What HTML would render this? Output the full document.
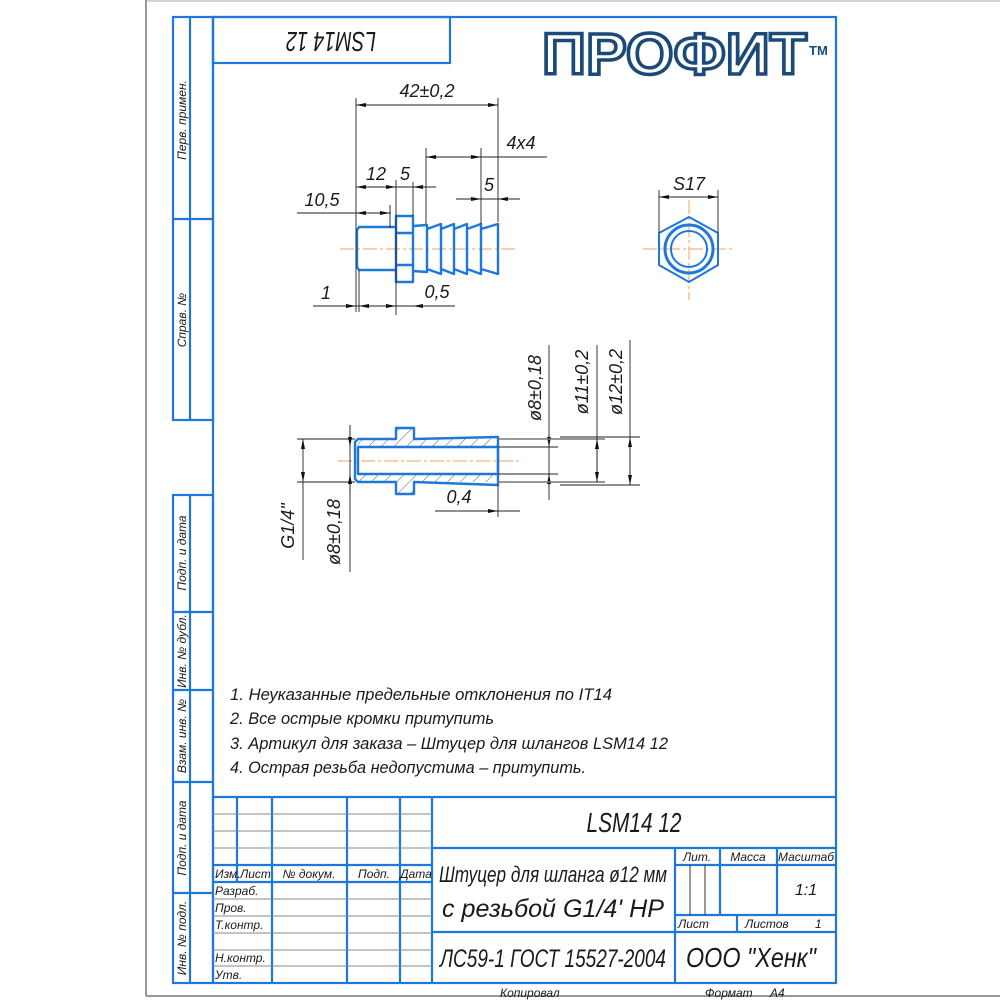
<!DOCTYPE html>
<html><head><meta charset="utf-8"><style>
html,body{margin:0;padding:0;background:#fff;width:1000px;height:1000px;overflow:hidden}
svg{display:block}
text{font-family:"Liberation Sans Narrow","Liberation Sans",sans-serif;font-style:italic;fill:#1a1a1a}
</style></head><body>
<svg width="1000" height="1000" viewBox="0 0 1000 1000" xmlns="http://www.w3.org/2000/svg">
<defs>
<pattern id="h" patternUnits="userSpaceOnUse" width="9" height="9" patternTransform="rotate(45)">
<line x1="0" y1="0" x2="0" y2="9" stroke="#333" stroke-width="0.8"/>
</pattern>
<marker id="a" viewBox="0 0 10 4" refX="10" refY="2" markerWidth="12" markerHeight="4" markerUnits="userSpaceOnUse" orient="auto-start-reverse"><path d="M0,0 L10,2 L0,4z" fill="#111"/></marker>
</defs>
<line x1="146" y1="0" x2="146" y2="996" stroke="#777" stroke-width="1.5"/>
<line x1="146" y1="996" x2="1000" y2="996" stroke="#777" stroke-width="1.5"/>
<line x1="146" y1="1" x2="1000" y2="1" stroke="#aaa" stroke-width="1"/>
<g stroke="#1e78dc" stroke-width="2.2" fill="none">
<rect x="213" y="17" width="623" height="966"/>
<rect x="173" y="17" width="40" height="403"/>
<line x1="190" y1="17" x2="190" y2="420"/>
<line x1="173" y1="219" x2="213" y2="219"/>
<rect x="173" y="495" width="40" height="488"/>
<line x1="190" y1="495" x2="190" y2="983"/>
<line x1="173" y1="612" x2="213" y2="612"/>
<line x1="173" y1="690" x2="213" y2="690"/>
<line x1="173" y1="782" x2="213" y2="782"/>
<line x1="173" y1="893" x2="213" y2="893"/>
<rect x="213" y="17" width="237" height="46"/>
<line x1="213" y1="797" x2="836" y2="797"/>
<line x1="237" y1="797" x2="237" y2="882"/>
<line x1="272" y1="797" x2="272" y2="983"/>
<line x1="347" y1="797" x2="347" y2="983"/>
<line x1="400" y1="797" x2="400" y2="983"/>
<line x1="432" y1="797" x2="432" y2="983"/>
<line x1="213" y1="865" x2="432" y2="865"/>
<line x1="213" y1="882" x2="432" y2="882"/>
<line x1="432" y1="848" x2="836" y2="848"/>
<line x1="432" y1="932" x2="836" y2="932"/>
<line x1="675" y1="848" x2="675" y2="983"/>
<line x1="720" y1="848" x2="720" y2="915"/>
<line x1="777" y1="848" x2="777" y2="915"/>
<line x1="675" y1="865" x2="836" y2="865"/>
<line x1="675" y1="915" x2="836" y2="915"/>
<line x1="737" y1="915" x2="737" y2="932"/>
</g>
<g stroke="#888" stroke-width="1">
<line x1="213" y1="814" x2="432" y2="814"/>
<line x1="213" y1="831" x2="432" y2="831"/>
<line x1="213" y1="848" x2="432" y2="848"/>
<line x1="213" y1="899" x2="432" y2="899"/>
<line x1="213" y1="916" x2="432" y2="916"/>
<line x1="213" y1="933" x2="432" y2="933"/>
<line x1="213" y1="950" x2="432" y2="950"/>
<line x1="213" y1="966" x2="432" y2="966"/>
<line x1="690" y1="865" x2="690" y2="915" stroke="#333"/>
<line x1="705" y1="865" x2="705" y2="915" stroke="#333"/>
</g>
<g font-size="12">
<text transform="translate(186,120) rotate(-90)" text-anchor="middle">Перв. примен.</text>
<text transform="translate(186,320) rotate(-90)" text-anchor="middle">Справ. №</text>
<text transform="translate(186,553) rotate(-90)" text-anchor="middle">Подп. и дата</text>
<text transform="translate(186,651) rotate(-90)" text-anchor="middle">Инв. № дубл.</text>
<text transform="translate(186,736) rotate(-90)" text-anchor="middle">Взам. инв. №</text>
<text transform="translate(186,838) rotate(-90)" text-anchor="middle">Подп. и дата</text>
<text transform="translate(186,938) rotate(-90)" text-anchor="middle">Инв. № подл.</text>
</g>
<text transform="translate(331,42) rotate(180)" text-anchor="middle" font-size="28" dy="10" textLength="90" lengthAdjust="spacingAndGlyphs">LSM14 12</text>
<!-- logo -->
<text x="542" y="74" font-size="58" textLength="265" lengthAdjust="spacingAndGlyphs" stroke="#1b4a78" stroke-width="3.5" style="fill:#fff;font-family:'Liberation Sans',sans-serif;font-weight:bold;font-style:normal">ПРОФИТ</text>
<text x="809" y="55" font-size="13" style="fill:#1b4a78;font-family:'Liberation Sans',sans-serif;font-weight:bold;font-style:normal">TM</text>
<g stroke="#f0a060" stroke-width="1" stroke-dasharray="14,3,3,3">
<line x1="340" y1="249" x2="515" y2="249"/>
<line x1="338" y1="461" x2="522" y2="461"/>
<line x1="643" y1="249" x2="735" y2="249"/>
<line x1="689" y1="200" x2="689" y2="300"/>
</g>
<g stroke="#1e78dc" stroke-width="2.4" fill="none" stroke-linejoin="round">
<path d="M396,227 H359 L357,230 V267 L359,270 H396"/>
<rect x="396" y="216" width="17" height="66"/>
<line x1="396" y1="233" x2="413" y2="233"/><line x1="396" y1="265" x2="413" y2="265"/>
<path d="M413,226 L427,225 V272 L413,271 M427,229 L441,224 V274 L427,269 M441,229 L454,224 V274 L441,269 M454,229 L467,224 V274 L454,269 M467,229 L481,224 V274 L467,269 M481,229 L498,224 V274 L481,269"/>
</g>
<g stroke="#1e78dc" fill="none">
<polygon points="689,217 718,233 718,265 689,282 659,265 659,233" stroke-width="2"/>
<circle cx="689" cy="249" r="24" stroke-width="3"/>
<circle cx="689" cy="249" r="18" stroke-width="2"/>
</g>
<path d="M356,439 H396 V428 H414 V439 H498 V447 H358 Z" fill="url(#h)"/>
<path d="M356,482 H396 V494 H414 V482 H498 V474 H358 Z" fill="url(#h)"/>
<g stroke="#1e78dc" stroke-width="2.4" fill="none" stroke-linejoin="round">
<path d="M358,439 H396 V428 H414 V439 L498,437 V485 L414,482 V494 H396 V482 H358 L355,479 V442 Z"/>
<rect x="358" y="447" width="140" height="27"/>
</g>
<g stroke="#222" stroke-width="0.9" fill="none">
<line x1="356" y1="98" x2="356" y2="312"/><line x1="498" y1="98" x2="498" y2="222"/>
<line x1="356" y1="105" x2="498" y2="105" marker-start="url(#a)" marker-end="url(#a)"/>
<line x1="426" y1="148" x2="426" y2="224"/><line x1="481" y1="148" x2="481" y2="224"/>
<line x1="426" y1="157" x2="547" y2="157"/>
<line x1="426" y1="157" x2="481" y2="157" marker-start="url(#a)" marker-end="url(#a)"/>
<line x1="396" y1="180" x2="396" y2="315"/><line x1="413" y1="182" x2="413" y2="216"/>
<line x1="356" y1="187" x2="396" y2="187" marker-start="url(#a)" marker-end="url(#a)"/>
<line x1="396" y1="187" x2="436" y2="187"/>
<line x1="418" y1="187" x2="413" y2="187" marker-end="url(#a)"/>
<line x1="456" y1="199" x2="520" y2="199"/>
<line x1="465" y1="199" x2="481" y2="199" marker-end="url(#a)"/>
<line x1="514" y1="199" x2="498" y2="199" marker-end="url(#a)"/>
<line x1="390" y1="205" x2="390" y2="228"/>
<line x1="297" y1="213" x2="391" y2="213"/>
<line x1="356" y1="213" x2="390" y2="213" marker-start="url(#a)" marker-end="url(#a)"/>
<line x1="359" y1="270" x2="359" y2="312"/>
<line x1="313" y1="306" x2="455" y2="306"/>
<line x1="340" y1="306" x2="356" y2="306" marker-end="url(#a)"/>
<line x1="359" y1="306" x2="396" y2="306" marker-start="url(#a)" marker-end="url(#a)"/>
<line x1="425" y1="306" x2="413" y2="306" marker-end="url(#a)"/>
<line x1="659" y1="190" x2="659" y2="233"/><line x1="718" y1="190" x2="718" y2="233"/>
<line x1="659" y1="197" x2="718" y2="197" marker-start="url(#a)" marker-end="url(#a)"/>
<line x1="297" y1="439" x2="355" y2="439"/><line x1="297" y1="482" x2="355" y2="482"/>
<line x1="303" y1="439" x2="303" y2="482" marker-start="url(#a)" marker-end="url(#a)"/>
<line x1="303" y1="482" x2="303" y2="560"/>
<line x1="350" y1="425" x2="350" y2="572"/>
<line x1="350" y1="425" x2="350" y2="447" marker-end="url(#a)"/>
<line x1="350" y1="494" x2="350" y2="474" marker-end="url(#a)"/>
<line x1="498" y1="447" x2="558" y2="447"/><line x1="498" y1="474" x2="558" y2="474"/>
<line x1="549" y1="345" x2="549" y2="500"/>
<line x1="549" y1="433" x2="549" y2="447" marker-end="url(#a)"/>
<line x1="549" y1="488" x2="549" y2="474" marker-end="url(#a)"/>
<line x1="498" y1="439" x2="605" y2="439" stroke="#777" stroke-width="1.5"/><line x1="498" y1="482" x2="605" y2="482" stroke="#777" stroke-width="1.5"/>
<line x1="597" y1="345" x2="597" y2="482"/>
<line x1="597" y1="439" x2="597" y2="482" marker-start="url(#a)" marker-end="url(#a)"/>
<line x1="560" y1="437" x2="640" y2="437"/><line x1="560" y1="485" x2="640" y2="485"/>
<line x1="630" y1="340" x2="630" y2="485"/>
<line x1="630" y1="437" x2="630" y2="485" marker-start="url(#a)" marker-end="url(#a)"/>
<line x1="498" y1="485" x2="498" y2="517"/>
<line x1="435" y1="511" x2="520" y2="511"/>
<line x1="480" y1="511" x2="498" y2="511" marker-end="url(#a)"/>
</g>
<g font-size="18">
<text x="427" y="97" text-anchor="middle">42±0,2</text>
<text x="521" y="149" text-anchor="middle">4x4</text>
<text x="376" y="180" text-anchor="middle">12</text>
<text x="405" y="180" text-anchor="middle">5</text>
<text x="489" y="191" text-anchor="middle">5</text>
<text x="322" y="206" text-anchor="middle">10,5</text>
<text x="326" y="299" text-anchor="middle">1</text>
<text x="437" y="298" text-anchor="middle">0,5</text>
<text x="689" y="190" text-anchor="middle">S17</text>
<text x="459" y="503" text-anchor="middle">0,4</text>
<text transform="translate(294,526) rotate(-90)" text-anchor="middle">G1/4"</text>
<text transform="translate(340,532) rotate(-90)" text-anchor="middle">ø8±0,18</text>
<text transform="translate(541,388) rotate(-90)" text-anchor="middle">ø8±0,18</text>
<text transform="translate(588,382) rotate(-90)" text-anchor="middle">ø11±0,2</text>
<text transform="translate(622,382) rotate(-90)" text-anchor="middle">ø12±0,2</text>
</g>
<g font-size="17">
<text x="230" y="700" textLength="382" lengthAdjust="spacingAndGlyphs">1. Неуказанные предельные отклонения по IT14</text>
<text x="230" y="724" textLength="264" lengthAdjust="spacingAndGlyphs">2. Все острые кромки притупить</text>
<text x="230" y="749" textLength="438" lengthAdjust="spacingAndGlyphs">3. Артикул для заказа – Штуцер для шлангов LSM14 12</text>
<text x="230" y="773" textLength="356" lengthAdjust="spacingAndGlyphs">4. Острая резьба недопустима – притупить.</text>
</g>
<g font-size="12">
<text x="215" y="878">Изм.</text><text x="240" y="878">Лист</text>
<text x="309" y="878" text-anchor="middle">№ докум.</text>
<text x="374" y="878" text-anchor="middle">Подп.</text>
<text x="416" y="878" text-anchor="middle">Дата</text>
<text x="215" y="895">Разраб.</text>
<text x="215" y="912">Пров.</text>
<text x="215" y="929">Т.контр.</text>
<text x="215" y="962">Н.контр.</text>
<text x="215" y="979">Утв.</text>
<text x="697" y="861" text-anchor="middle">Лит.</text>
<text x="748" y="861" text-anchor="middle">Масса</text>
<text x="806" y="861" text-anchor="middle">Масштаб</text>
<text x="678" y="928">Лист</text>
<text x="745" y="928">Листов</text>
<text x="815" y="928">1</text>
<text x="500" y="997">Копировал</text>
<text x="705" y="997">Формат</text>
<text x="770" y="997">A4</text>
</g>
<text x="806" y="895" font-size="16" text-anchor="middle">1:1</text>
<text x="634" y="832" font-size="28" text-anchor="middle" textLength="95" lengthAdjust="spacingAndGlyphs">LSM14 12</text>
<text x="553" y="882" font-size="22" text-anchor="middle" textLength="228" lengthAdjust="spacingAndGlyphs">Штуцер для шланга ø12 мм</text>
<text x="553" y="917" font-size="25" text-anchor="middle" textLength="222" lengthAdjust="spacingAndGlyphs">с резьбой G1/4' HP</text>
<text x="553" y="967" font-size="25" text-anchor="middle" textLength="226" lengthAdjust="spacingAndGlyphs">ЛС59-1 ГОСТ 15527-2004</text>
<text x="751" y="967" font-size="28" text-anchor="middle" textLength="130" lengthAdjust="spacingAndGlyphs">ООО "Хенк"</text>
</svg>
</body></html>
